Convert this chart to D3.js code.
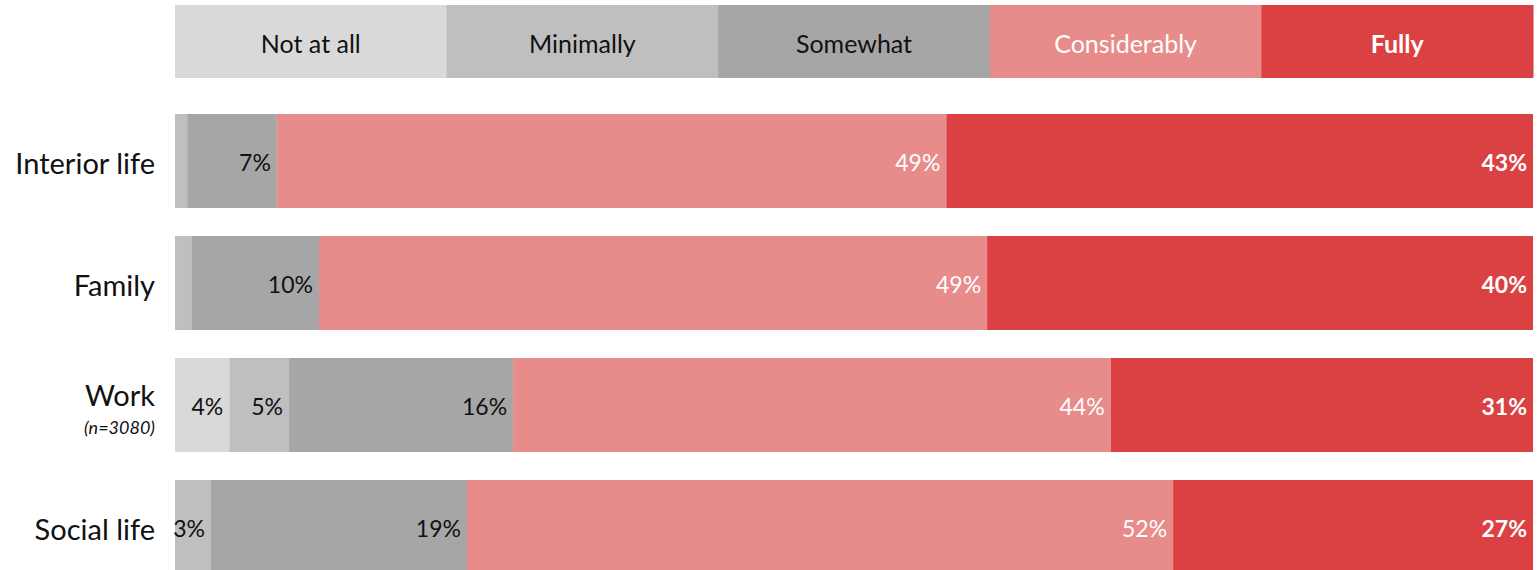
<!DOCTYPE html>
<html>
<head>
<meta charset="utf-8">
<script src="https://cdn.jsdelivr.net/npm/d3@7"></script>
<style>
  html, body { margin: 0; padding: 0; background: #ffffff; }
  svg { display: block; }
</style>
</head>
<body>
<svg id="chart" width="1538" height="570"></svg>
<script>
const categories = ["Interior life", "Family", "Work", "Social life"];
const subLabels = ["", "", "(n=3080)", ""];
const levels = ["Not at all", "Minimally", "Somewhat", "Considerably", "Fully"];
const notAtAll     = [0.0, 0.0, 4.0, 0.0];
const minimally    = [0.9, 1.2, 4.4, 2.65];
const somewhat     = [6.6, 9.4, 16.5, 18.85];
const considerably = [49.3, 49.2, 44.0, 52.0];
const fully        = [43.2, 40.2, 31.1, 26.5];
const shownLabels = [
  ["", "", "7%", "49%", "43%"],
  ["", "", "10%", "49%", "40%"],
  ["4%", "5%", "16%", "44%", "31%"],
  ["", "3%", "19%", "52%", "27%"]
];

const colors = ["#d9d9d9", "#bfbfbf", "#a6a6a6", "#e88c8b", "#db4042"];
const textColors = ["#111", "#111", "#111", "#ffffff", "#ffffff"];
const textWeights = ["normal", "normal", "normal", "normal", "bold"];
const FONT = "Lato, 'Open Sans', sans-serif";

const series = [notAtAll, minimally, somewhat, considerably, fully];
const rows = categories.map((c, i) => {
  const r = { category: c };
  levels.forEach((l, j) => r[l] = series[j][i]);
  return r;
});
const stacked = d3.stack().keys(levels)(rows);

const svg = d3.select("#chart");
const x = d3.scaleLinear().domain([0, 100]).range([175, 1533]);
const y = d3.scaleBand().domain(categories).range([100, 588])
  .paddingInner(28 / 122).paddingOuter(14 / 122);

// Legend
const legendX = d3.scaleBand().domain(levels).range([175, 1533]);
const legend = svg.append("g");
legend.selectAll("rect").data(levels).join("rect")
  .attr("x", d => legendX(d)).attr("y", 5)
  .attr("width", legendX.bandwidth() + 0.5).attr("height", 73)
  .attr("fill", (d, i) => colors[i]);
legend.selectAll("text").data(levels).join("text")
  .attr("x", d => legendX(d) + legendX.bandwidth() / 2)
  .attr("y", 43)
  .attr("text-anchor", "middle").attr("dominant-baseline", "central")
  .attr("font-family", FONT).attr("font-size", 25)
  .attr("font-weight", (d, i) => textWeights[i])
  .attr("fill", (d, i) => textColors[i])
  .text(d => d);

// Bars
const layers = svg.append("g").selectAll("g").data(stacked).join("g")
  .attr("fill", (d, i) => colors[i]);
layers.selectAll("rect").data(d => d.map(s => ({ s, cat: s.data.category })))
  .join("rect")
  .attr("x", d => x(d.s[0]))
  .attr("y", d => y(d.cat))
  .attr("width", d => Math.max(0, x(d.s[1]) - x(d.s[0])))
  .attr("height", y.bandwidth());

// Value labels
const labelG = svg.append("g");
stacked.forEach((layer, j) => {
  layer.forEach((s, i) => {
    const t = shownLabels[i][j];
    if (!t) return;
    labelG.append("text")
      .attr("x", x(s[1]) - 6)
      .attr("y", y(categories[i]) + y.bandwidth() / 2 + 1)
      .attr("text-anchor", "end").attr("dominant-baseline", "central")
      .attr("font-family", FONT).attr("font-size", 23)
      .attr("font-weight", textWeights[j])
      .attr("fill", textColors[j])
      .text(t);
  });
});

// Category labels
const catG = svg.append("g");
categories.forEach((c, i) => {
  const cy = y(c) + y.bandwidth() / 2;
  catG.append("text")
    .attr("x", 155).attr("y", cy + (subLabels[i] ? -11 : 1))
    .attr("text-anchor", "end").attr("dominant-baseline", "central")
    .attr("font-family", FONT).attr("font-size", 29)
    .attr("fill", "#111").text(c);
  if (subLabels[i]) {
    catG.append("text")
      .attr("x", 155).attr("y", cy + 22)
      .attr("text-anchor", "end").attr("dominant-baseline", "central")
      .attr("font-family", FONT).attr("font-size", 18)
      .attr("font-style", "italic")
      .attr("fill", "#111").text(subLabels[i]);
  }
});
</script>
</body>
</html>
